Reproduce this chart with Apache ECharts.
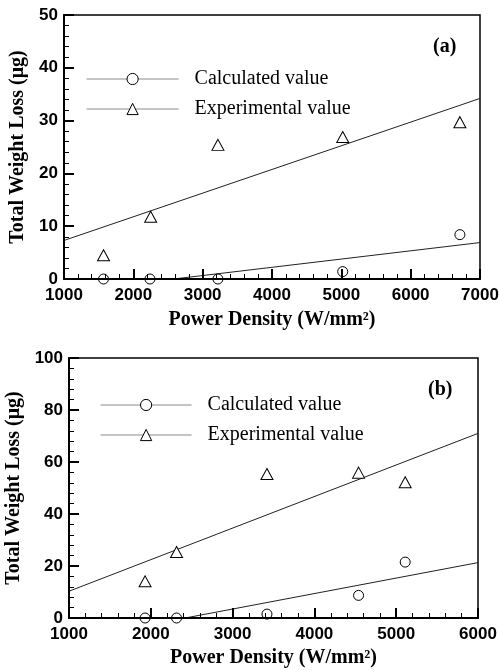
<!DOCTYPE html>
<html><head><meta charset="utf-8">
<script src="https://cdn.jsdelivr.net/npm/echarts@6/dist/echarts.min.js"></script>
<style>html,body{margin:0;padding:0;background:#fff;}#a,#b{width:499px;height:335px;}</style>
</head><body><div id="a"></div><div id="b"></div>
<script>
// Panel (a)
const aCalcX = [1570, 2240, 3220, 5020, 6710];
const aCalcY = [0, 0, 0, 1.4, 8.4];
const aExpX = [1570, 2250, 3220, 5020, 6710];
const aExpY = [4.5, 11.8, 25.4, 26.9, 29.7];
const aCalcFitX = [2580, 7000];
const aCalcFitY = [0, 6.9];
const aExpFitX = [1000, 7000];
const aExpFitY = [7.3, 34.2];
// Panel (b)
const bCalcX = [1930, 2315, 3420, 4540, 5110];
const bCalcY = [0, 0, 1.5, 8.7, 21.5];
const bExpX = [1930, 2315, 3420, 4540, 5110];
const bExpY = [14.1, 25.4, 55.4, 55.9, 52.2];
const bCalcFitX = [2420, 6000];
const bCalcFitY = [0, 21.3];
const bExpFitX = [1000, 6000];
const bExpFitY = [10.3, 71.0];

const legendNames = ['Calculated value', 'Experimental value'];
const xTitle = 'Power Density (W/mm²)';
const yTitle = 'Total Weight Loss (μg)';

function pairs(xs, ys){ return xs.map((x,i)=>[x, ys[i]]); }

function makeOption(p){
  const serif = 'Liberation Serif, Times New Roman, serif';
  const sans = 'Liberation Sans, Arial, sans-serif';
  const axisCommon = {
    axisLine:{show:true, onZero:false, lineStyle:{color:'#000', width:2}},
    axisTick:{show:true, inside:true, length:10, lineStyle:{color:'#000', width:2}},
    minorTick:{show:true, splitNumber:5, length:5, lineStyle:{color:'#000', width:1}},
    splitLine:{show:false},
    nameLocation:'middle',
    nameTextStyle:{fontFamily:serif, fontWeight:'bold', fontSize:20, color:'#000'},
    z:10
  };
  const markerStyle = {color:'#fff', borderColor:'#000', borderWidth:1};
  return {
    animation:false,
    backgroundColor:'#fff',
    grid:{left:p.grid[0], top:p.grid[1], width:p.grid[2], height:p.grid[3], show:true, borderColor:'#000', borderWidth:1.5, backgroundColor:'transparent', containLabel:false, outerBoundsMode:'none'},
    legend:{
      data:legendNames, orient:'vertical', left:p.legend[0], top:p.legend[1],
      itemWidth:p.legendW, itemHeight:14, itemGap:10,
      lineStyle:{color:'#8c8c8c', width:1.2, opacity:1},
      itemStyle:{color:'#fff', borderColor:'#000', borderWidth:1},
      textStyle:{fontFamily:serif, fontSize:20, color:'#000', lineHeight:20, padding:[0,0,0,p.legendPad]},
      selectedMode:false
    },
    graphic:[{type:'text', left:p.tag[0], top:p.tag[1], style:{text:p.tagText, font:'bold 20px ' + serif, fill:'#000'}}],
    xAxis:Object.assign({}, axisCommon, {
      type:'value', min:1000, max:p.xMax, interval:1000,
      name:xTitle, nameGap:p.xGap,
      axisLabel:{fontFamily:sans, fontWeight:'bold', fontSize:17, color:'#000', margin:8, formatter:(v)=>String(v)}
    }),
    yAxis:Object.assign({}, axisCommon, {
      type:'value', min:0, max:p.yMax, interval:p.yInt,
      name:yTitle, nameGap:p.yGap, nameRotate:90,
      axisLabel:{fontFamily:sans, fontWeight:'bold', fontSize:17, color:'#000', margin:6, formatter:(v)=>String(v)}
    }),
    series:[
      {name:'fit1', type:'line', data:pairs(p.calcFitX, p.calcFitY), showSymbol:false, symbol:'none', lineStyle:{color:'#222', width:1}, clip:true, z:2},
      {name:'fit2', type:'line', data:pairs(p.expFitX, p.expFitY), showSymbol:false, symbol:'none', lineStyle:{color:'#222', width:1}, clip:true, z:2},
      {name:legendNames[0], type:'line', data:pairs(p.calcX, p.calcY), symbol:'circle', symbolSize:10, showSymbol:true, lineStyle:{width:0, opacity:0}, itemStyle:markerStyle, clip:false, z:5},
      {name:legendNames[1], type:'line', data:pairs(p.expX, p.expY), symbol:'triangle', symbolSize:[12,11], showSymbol:true, lineStyle:{width:0, opacity:0}, itemStyle:markerStyle, clip:false, z:5}
    ]
  };
}

const ca = echarts.init(document.getElementById('a'), null, {renderer:'canvas'});
ca.setOption(makeOption({
  grid:[64,15,416,264], xMax:7000, yMax:50, yInt:10, xGap:31, yGap:34,
  legend:[81,64], legendW:92, legendPad:11, tag:[433,37], tagText:'(a)',
  calcX:aCalcX, calcY:aCalcY, expX:aExpX, expY:aExpY,
  calcFitX:aCalcFitX, calcFitY:aCalcFitY, expFitX:aExpFitX, expFitY:aExpFitY
}));
const cb = echarts.init(document.getElementById('b'), null, {renderer:'canvas'});
cb.setOption(makeOption({
  grid:[69,23,409,260], xMax:6000, yMax:100, yInt:20, xGap:30, yGap:39,
  legend:[95,55], legendW:91, legendPad:11, tag:[428,45], tagText:'(b)',
  calcX:bCalcX, calcY:bCalcY, expX:bExpX, expY:bExpY,
  calcFitX:bCalcFitX, calcFitY:bCalcFitY, expFitX:bExpFitX, expFitY:bExpFitY
}));
</script></body></html>
